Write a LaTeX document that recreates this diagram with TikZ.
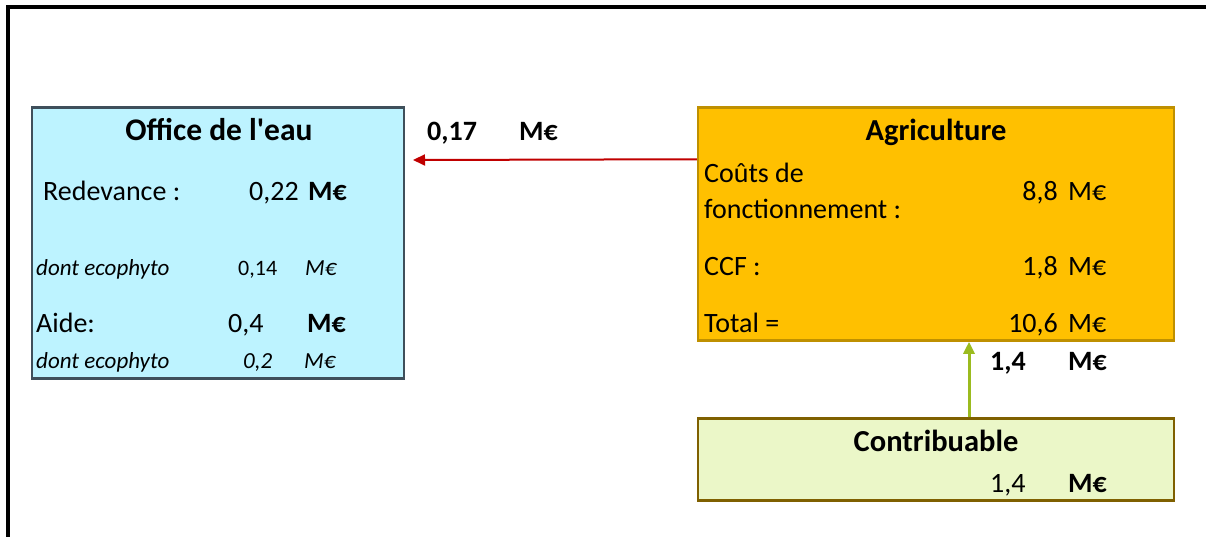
\documentclass[tikz,border=0pt]{standalone}
\usepackage{fontspec}
\setmainfont{Carlito}
\usetikzlibrary{arrows.meta}
\definecolor{officefill}{HTML}{BDF3FF}
\definecolor{officedraw}{HTML}{3F4F5B}
\definecolor{agrifill}{HTML}{FFC000}
\definecolor{agridraw}{HTML}{BF9000}
\definecolor{contribfill}{HTML}{EBF7C8}
\definecolor{contribdraw}{HTML}{7F6000}
\definecolor{redarrow}{HTML}{C00000}
\definecolor{greenarrow}{HTML}{9BBB1F}
\tikzset{
  box/.style={rectangle, inner sep=0pt, line width=2.5pt},
  big/.style={inner sep=0pt, font=\fontsize{28}{32}\selectfont},
  bigb/.style={inner sep=0pt, font=\fontsize{28}{32}\selectfont\bfseries},
  titleb/.style={inner sep=0pt, font=\fontsize{30.5}{34}\selectfont\bfseries},
  small/.style={inner sep=0pt, font=\fontsize{22}{26}\selectfont},
  smalli/.style={inner sep=0pt, font=\fontsize{23}{26}\selectfont\itshape},
}
\begin{document}
\begin{tikzpicture}[x=1pt,y=-1pt]
\useasboundingbox (0,0) rectangle (1206,536);
% outer frame
\draw[line width=3.8pt] (8,560) -- (8,7) -- (1220,7);
% boxes
\node[box, draw=officedraw, fill=officefill, minimum width=372pt, minimum height=271pt] (office) at (218,243) {};
\node[box, draw=agridraw, fill=agrifill, minimum width=476pt, minimum height=233pt] (agri) at (936,224) {};
\node[box, draw=contribdraw, fill=contribfill, minimum width=476pt, minimum height=82pt] (contrib) at (936,459.5) {};
% office texts
\node[titleb, anchor=base, font=\fontsize{31.5}{34}\selectfont\bfseries] (otitle) at (219,140) {Office de l\textquotesingle eau};
\node[big, anchor=base west] (ored) at (43,200) {Redevance :};
\node[big, anchor=base east] (oredv) at (299,200) {0,22};
\node[bigb, anchor=base west] (oredu) at (308,200) {M€};
\node[smalli, anchor=base west] (oeco1) at (36,275) {dont ecophyto};
\node[small, anchor=base west] (oeco1v) at (238,275) {0,14};
\node[smalli, anchor=base west] (oeco1u) at (305,275) {M€};
\node[big, anchor=base west] (oaide) at (36,332) {Aide:};
\node[big, anchor=base west] (oaidev) at (228,332) {0,4};
\node[bigb, anchor=base west] (oaideu) at (307,332) {M€};
\node[smalli, anchor=base west] (oeco2) at (36,368) {dont ecophyto};
\node[smalli, anchor=base west] (oeco2v) at (243,368) {0,2};
\node[smalli, anchor=base west] (oeco2u) at (304,368) {M€};
% agriculture texts
\node[titleb, anchor=base] (atitle) at (936,140) {Agriculture};
\node[big, anchor=base west] (acout1) at (704,182) {Coûts de};
\node[big, anchor=base west] (acout2) at (704,218) {fonctionnement :};
\node[big, anchor=base east] (acoutv) at (1058,200) {8,8};
\node[big, anchor=base west] (acoutu) at (1068,200) {M€};
\node[big, anchor=base west] (accf) at (704,275) {CCF :};
\node[big, anchor=base east] (accfv) at (1058,275) {1,8};
\node[big, anchor=base west] (accfu) at (1068,275) {M€};
\node[big, anchor=base west] (atot) at (704,332) {Total =};
\node[big, anchor=base east] (atotv) at (1058,332) {10,6};
\node[big, anchor=base west] (atotu) at (1068,332) {M€};
% contribuable texts
\node[titleb, anchor=base] (ctitle) at (936,451) {Contribuable};
\node[big, anchor=base west] (cval) at (990,492) {1,4};
\node[bigb, anchor=base west] (cunit) at (1068,492) {M€};
% flow labels
\node[bigb, anchor=base west] (l1v) at (427,140) {0,17};
\node[bigb, anchor=base west] (l1u) at (519,140) {M€};
\node[bigb, anchor=base west] (l2v) at (990,370) {1,4};
\node[bigb, anchor=base west] (l2u) at (1068,370) {M€};
% arrows
\coordinate (redend) at (413,160);
\draw[redarrow, line width=2pt, -{Triangle[length=12pt,width=11pt]}] ([yshift=-53pt]agri.north west) -- (redend);
\draw[greenarrow, line width=3pt, -{Triangle[length=12pt,width=11pt]}] ([xshift=33pt]contrib.north) -- ([xshift=33pt]agri.south);
\end{tikzpicture}
\end{document}
